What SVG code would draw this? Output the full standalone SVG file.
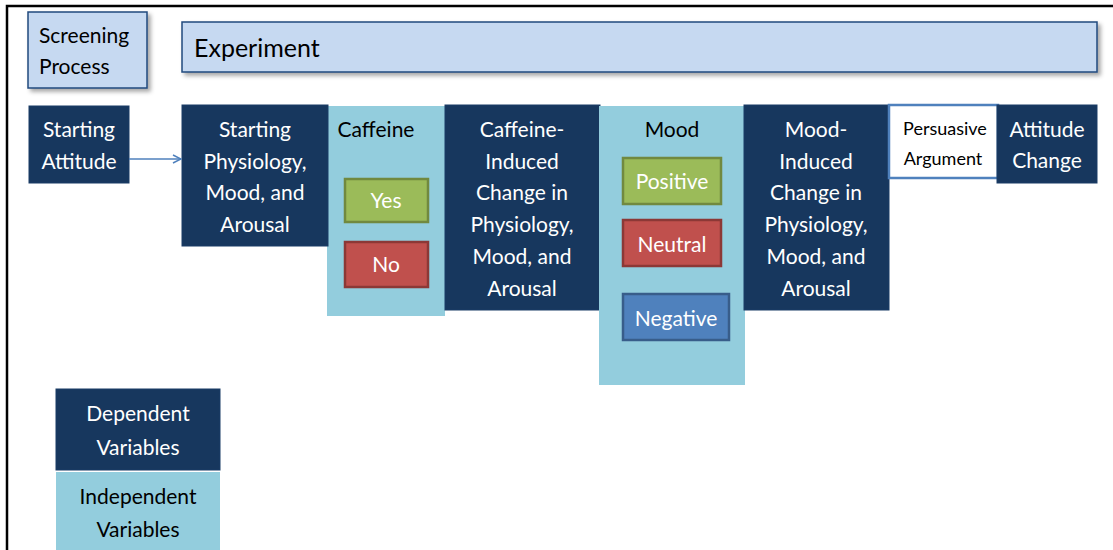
<svg xmlns="http://www.w3.org/2000/svg" width="1113" height="550" viewBox="0 0 1113 550">
<defs>
<filter id="sh" x="-10%" y="-20%" width="130%" height="160%">
<feGaussianBlur in="SourceAlpha" stdDeviation="2"/>
<feOffset dx="3" dy="3" result="b"/>
<feFlood flood-color="#000" flood-opacity="0.35"/>
<feComposite in2="b" operator="in"/>
<feMerge><feMergeNode/><feMergeNode in="SourceGraphic"/></feMerge>
</filter>
<marker id="arr" viewBox="0 0 10 10" refX="9" refY="5" markerWidth="10" markerHeight="10" markerUnits="userSpaceOnUse" orient="auto">
<path d="M1,1 L9,5 L1,9" fill="none" stroke="#4f81bd" stroke-width="1.5"/>
</marker>
</defs>
<style>
text{font-family:Lato,"Liberation Sans",sans-serif;font-size:21px;}
.w{fill:#fff;text-anchor:middle;}
.k{fill:#000;}
.km{fill:#000;text-anchor:middle;}
.dv{fill:#17375e;stroke:#1b3d66;stroke-width:1;}
.iv{fill:#93cddd;}
.hd{fill:#c6d9f1;stroke:#1f497d;stroke-width:1.5;}
.g{fill:#9bbb59;stroke:#71893f;stroke-width:2.5;}
.r{fill:#c0504d;stroke:#8c3836;stroke-width:2.5;}
.b{fill:#4f81bd;stroke:#385d8a;stroke-width:2.5;}
</style>
<rect width="1113" height="550" fill="#fff"/>
<path d="M7,550 L7,6 L1113,6" fill="none" stroke="#000" stroke-width="2.5"/>

<g id="screening"><rect class="hd" x="28" y="12" width="119" height="76" filter="url(#sh)"/>
<text class="k" x="39" y="43">Screening</text><text class="k" x="39" y="74">Process</text></g>

<g id="experiment"><rect class="hd" x="182" y="22" width="915" height="50" filter="url(#sh)"/>
<text class="k" x="194" y="57" style="font-size:25px">Experiment</text></g>

<g id="starting-attitude"><rect class="dv" x="29" y="106" width="100" height="77"/>
<text class="w" x="79" y="137">Starting</text><text class="w" x="79" y="169">Attitude</text></g>

<g id="caffeine"><rect class="iv" x="327" y="106" width="118" height="210"/>
<text class="km" x="376" y="137">Caffeine</text>
<g id="yes"><rect class="g" x="345" y="179" width="83" height="43"/><text class="w" x="386" y="208">Yes</text></g>
<g id="no"><rect class="r" x="345" y="242" width="83" height="45"/><text class="w" x="386" y="272">No</text></g></g>

<g id="starting-physiology"><rect class="dv" x="182" y="105" width="146" height="141"/>
<text class="w" x="255" y="137">Starting</text><text class="w" x="255" y="169">Physiology,</text>
<text class="w" x="255" y="200">Mood, and</text><text class="w" x="255" y="232">Arousal</text></g>

<g id="caffeine-induced"><rect class="dv" x="445" y="105" width="155" height="205"/>
<text class="w" x="522" y="137">Caffeine-</text><text class="w" x="522" y="169">Induced</text>
<text class="w" x="522" y="200">Change in</text><text class="w" x="522" y="232">Physiology,</text>
<text class="w" x="522" y="264">Mood, and</text><text class="w" x="522" y="296">Arousal</text></g>

<g id="mood"><rect class="iv" x="599" y="106" width="146" height="279"/>
<text class="km" x="672" y="137">Mood</text>
<g id="positive"><rect class="g" x="623" y="158" width="98" height="46"/><text class="w" x="672" y="189">Positive</text></g>
<g id="neutral"><rect class="r" x="623" y="220" width="98" height="46"/><text class="w" x="672" y="252">Neutral</text></g>
<g id="negative"><rect class="b" x="623" y="294" width="106" height="46"/><text class="w" x="676" y="326">Negative</text></g></g>

<g id="mood-induced"><rect class="dv" x="744" y="105" width="145" height="205"/>
<text class="w" x="816" y="137">Mood-</text><text class="w" x="816" y="169">Induced</text>
<text class="w" x="816" y="200">Change in</text><text class="w" x="816" y="232">Physiology,</text>
<text class="w" x="816" y="264">Mood, and</text><text class="w" x="816" y="296">Arousal</text></g>

<g id="persuasive"><rect x="889" y="105" width="109" height="73" fill="#fff" stroke="#4f81bd" stroke-width="2.5"/>
<text class="km" x="945" y="135" style="font-size:18px">Persuasive</text><text class="km" x="943" y="165" style="font-size:18px">Argument</text></g>

<g id="attitude-change"><rect class="dv" x="997" y="105" width="100" height="78"/>
<text class="w" x="1047" y="137">Attitude</text><text class="w" x="1047" y="168">Change</text></g>

<g id="legend-dv"><rect class="dv" x="56" y="389" width="164" height="81"/>
<text class="w" x="138" y="421">Dependent</text><text class="w" x="138" y="455">Variables</text></g>
<g id="legend-iv"><rect class="iv" x="56" y="472" width="164" height="80"/>
<text class="km" x="138" y="504">Independent</text><text class="km" x="138" y="537">Variables</text></g>

<g id="connectors"><line x1="129" y1="159" x2="181" y2="159" stroke="#4f81bd" stroke-width="1.5" marker-end="url(#arr)"/></g>
</svg>
